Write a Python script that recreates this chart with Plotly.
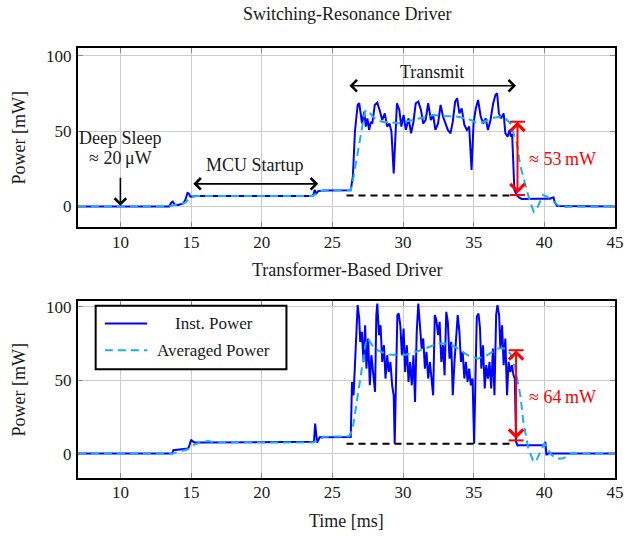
import plotly.graph_objects as go

# ---------------- data ----------------
# Top: Switching-Resonance Driver, instantaneous power
top_t = [7.0, 13.45, 13.6, 13.7, 13.85, 14.1, 14.45, 14.6, 14.75, 14.85, 14.95, 15.1, 15.4,
         23.5, 23.65, 23.75, 23.85, 24.0, 24.4, 26.3,
         26.45, 26.6, 26.79, 26.9, 27.02, 27.1, 27.25, 27.37, 27.48, 27.6, 27.72, 27.83,
         28.0, 28.18, 28.34, 28.53, 28.71, 28.88, 29.04, 29.18, 29.34, 29.46, 29.57, 29.74,
         29.88, 30.04, 30.2, 30.39, 30.57, 30.74, 30.9, 31.08, 31.27, 31.43, 31.6, 31.78,
         31.97, 32.13, 32.29, 32.48, 32.66, 32.83, 32.99, 33.17, 33.36, 33.52, 33.69, 33.83,
         33.99, 34.15, 34.34, 34.52, 34.68, 34.85, 34.99, 35.15, 35.31, 35.5, 35.68, 35.85,
         36.01, 36.19, 36.38, 36.54, 36.66, 36.78, 36.94, 37.12, 37.24, 37.4, 37.54, 37.63,
         37.72, 37.8, 37.88, 37.95, 38.05, 38.2, 38.4, 39.5, 40.4, 40.55, 40.65, 40.75, 40.9, 45.0]
top_inst = [0, 0, 2.5, 3.2, 1.2, 1.0, 2.0, 4.5, 9.0, 8.5, 6.5, 6.8, 7.0,
            7.0, 7.5, 11.0, 8.5, 10.2, 10.6, 10.8,
            20, 50, 67.3, 68.4, 61.7, 55, 62.8, 52.9, 58.4, 50.7, 56, 55,
            67.3, 68.8, 63.9, 57.3, 61.7, 52.9, 55, 49.6, 21.9, 52.9, 68.4, 63.9,
            52.9, 60.6, 50.7, 58.4, 48.5, 56.2, 68.4, 69.5, 63.9, 55, 57.3, 68.4,
            57.3, 60.6, 50.7, 55, 67.3, 59.5, 55, 50.7, 48.5, 56.2, 69.5, 71.7,
            61.7, 65, 54, 50.7, 52.9, 24.2, 55, 65, 70.6, 59.5, 55, 58.4,
            50.7, 57.3, 68.4, 73.9, 75, 61.7, 58.4, 61.7, 48.5, 46.3, 50.7, 46.3,
            48, 30, 11, 9.5, 7.5, 6, 5, 5.2, 5.2, 5.8, 6.0, 2.5, 0.3, 0]

# Top: averaged power
top_avg_t = [7.0, 13.5, 13.8, 14.2, 14.6, 14.9, 15.2, 15.6, 23.6, 23.9, 24.2, 24.6, 26.3,
             26.45, 26.7, 27.0, 27.3, 27.5, 27.8, 28.2, 28.6, 29.0, 29.4, 29.8, 30.3, 30.8,
             31.3, 31.8, 32.2, 32.9, 33.5, 33.9, 34.4, 34.8, 35.3, 35.7, 36.0, 36.5, 36.9,
             37.24, 37.6, 37.85, 38.05, 38.3, 38.55, 38.75, 39.0, 39.25, 39.5, 39.7, 39.9,
             40.2, 40.5, 40.8, 41.1, 41.4, 45.0]
top_avg = [0, 0, 1.0, 1.2, 2.5, 5.5, 6.8, 7.0, 7.0, 8.5, 10.2, 10.7, 10.8,
           17, 30, 48, 63, 64, 60, 57, 56, 56, 55.5, 55, 56.5, 57.5,
           58.4, 59.5, 60.6, 60, 59.5, 59.5, 58.5, 57.3, 55, 56, 57.3, 59, 59.5,
           58.4, 55, 48, 42, 27, 17, 11, 3, -3.5, -1, 4, 7.6,
           6.5, 4.4, 2, 0, -0.3, 0]

# Bottom: Transformer-Based Driver, instantaneous power
bot_t = [7.0, 13.66, 13.75, 14.2, 14.8, 14.9, 15.0, 15.1, 15.25, 16.0, 23.5, 23.7, 23.78,
         23.85, 23.92, 24.0, 24.1, 26.3,
         26.39, 26.5, 26.65, 26.79, 26.9, 26.97, 27.09, 27.2, 27.32, 27.41, 27.53, 27.65,
         27.76, 27.88, 28.02, 28.11, 28.18, 28.3, 28.41, 28.53, 28.65, 28.76, 28.88, 28.99,
         29.11, 29.23, 29.34, 29.41, 29.5, 29.6, 29.69, 29.81, 29.92, 30.04, 30.15, 30.27,
         30.39, 30.5, 30.62, 30.74, 30.85, 30.97, 31.08, 31.2, 31.32, 31.43, 31.55, 31.66,
         31.78, 31.9, 32.01, 32.13, 32.25, 32.36, 32.48, 32.59, 32.71, 32.83, 32.94, 33.06,
         33.17, 33.29, 33.41, 33.52, 33.64, 33.76, 33.87, 33.99, 34.1, 34.22, 34.34, 34.45,
         34.57, 34.68, 34.8, 34.92, 35.03, 35.15, 35.22, 35.34, 35.45, 35.54, 35.66, 35.78,
         35.89, 36.01, 36.12, 36.24, 36.36, 36.47, 36.59, 36.68, 36.8, 36.89, 37.01, 37.12,
         37.24, 37.36, 37.47, 37.59, 37.7, 37.82, 37.91, 38.0, 38.1, 38.3, 40.0, 40.07,
         40.15, 40.25, 45.0]
bot_inst = [0, 0, 2.3, 2.6, 3.5, 6, 9.5, 8.5, 7.6, 7.5, 7.5, 8, 20.4,
            12, 7.5, 9, 11.2, 11.3,
            48.8, 39.7, 73.8, 101.1, 92, 76, 82.9, 62.4, 87.4, 57.9, 78.4, 46.5,
            67, 53.3, 42, 94.3, 102.2, 80.6, 87.4, 62.4, 73.8, 51.1, 67, 55.6,
            62.4, 46.5, 39.7, 6.8, 44.3, 94.3, 95.4, 87.4, 67, 85.2, 55.6, 73.8,
            48.8, 62.4, 46.5, 67, 35.2, 82.9, 102.2, 87.4, 71.5, 78.4, 57.9, 69.3,
            51.1, 62.4, 48.8, 39.7, 94.3, 90.9, 80.6, 89.7, 62.4, 73.8, 53.3, 96.5,
            89.7, 64.7, 76.1, 39.7, 62.4, 80.6, 94.3, 82.9, 62.4, 69.3, 51.1, 62.4,
            48.8, 57.9, 46.5, 51.1, 6.8, 62.4, 93.1, 95.4, 85.2, 57.9, 73.8, 44.3,
            60.2, 51.1, 62.4, 44.3, 71.5, 39.7, 94.3, 101.1, 94.3, 71.5, 87.4, 60.2,
            78.4, 39.7, 62.4, 55.6, 60.2, 53.3, 51, 7.9, 5.6, 5.7, 5.7, 8,
            -1, 0, 0]

# Bottom: averaged power
bot_avg_t = [7.0, 13.7, 14.2, 14.8, 15.2, 15.6, 16.2, 16.6, 23.6, 24.0, 24.4, 26.2,
             26.44, 26.79, 27.14, 27.37, 27.5, 27.8, 28.1, 28.5, 29.0, 29.5, 29.9, 30.6,
             31.55, 32.5, 33.2, 33.9, 34.57, 35.27, 35.96, 36.66, 37.24, 37.6, 37.94, 38.3,
             38.52, 38.87, 39.2, 39.4, 39.7, 40.0, 40.2, 40.5, 40.9, 41.3, 41.7, 42.0,
             42.5, 43.0, 43.5, 45.0]
bot_avg = [0, 0, 1.5, 3, 6, 7.5, 8.6, 7.8, 7.5, 9, 11.5, 11.8,
           17, 39.7, 62.4, 76, 78.4, 74, 71, 69, 67.5, 67, 67, 68.1,
           71.5, 75, 75, 71.5, 67, 64.7, 67, 71.5, 71.5, 68.1, 57.9, 39.7,
           21.5, 3.4, -4.6, -5.5, 1, 6.8, 4, -1, -3.4, -3.4, -1.5, 0.5,
           0.3, -0.3, 0.2, 0]

# Idle baseline during transmit and the measured swings
top_base_t = [26.0, 37.6]
top_base = [7.2, 7.2]
bot_base_t = [26.0, 37.6]
bot_base = [6.8, 6.8]
top_swing = [7.6, 56.2]   # ≈ 53 mW
bot_swing = [9.0, 70.4]   # ≈ 64 mW
swing_t = [38.1, 38.0]

x_ticks = [10, 15, 20, 25, 30, 35, 40, 45]
y_ticks = [0, 50, 100]

# ---------------- figure ----------------
FONT = "Liberation Serif"
BLUE = "#0000FF"
CYAN = "#1AAFEF"
RED = "#FF0000"
TXT = "#1a1a1a"

fig = go.Figure()
for xs, ys, xa, ya in [(top_t, top_inst, "x", "y"), (bot_t, bot_inst, "x2", "y2")]:
    fig.add_trace(go.Scatter(x=xs, y=ys, mode="lines", xaxis=xa, yaxis=ya,
                             line=dict(color=BLUE, width=2), showlegend=False))
for xs, ys, xa, ya in [(top_avg_t, top_avg, "x", "y"), (bot_avg_t, bot_avg, "x2", "y2")]:
    fig.add_trace(go.Scatter(x=xs, y=ys, mode="lines", xaxis=xa, yaxis=ya,
                             line=dict(color=CYAN, width=2, dash="8px,5px"), showlegend=False))
for xs, ys, xa, ya in [(top_base_t, top_base, "x", "y"), (bot_base_t, bot_base, "x2", "y2")]:
    fig.add_trace(go.Scatter(x=xs, y=ys, mode="lines", xaxis=xa, yaxis=ya,
                             line=dict(color="black", width=2, dash="7px,5px"), showlegend=False))

# page geometry (body margin is removed by the post script)
W, H = 633, 536
ML, MR, MT, MB = 78, 9, 48, 58
PH = H - MT - MB
PW = W - ML - MR


def py(p):
    """page pixel row -> paper y"""
    return (H - MB - p) / PH


def px(p):
    """page pixel column -> paper x"""
    return (p - ML) / PW


axis_common = dict(showgrid=True, gridcolor="#cccccc", gridwidth=1, zeroline=False,
                   showline=True, linecolor="black", linewidth=2, mirror="ticks",
                   ticks="inside", ticklen=5, tickcolor="#8a8a8a", tickwidth=1,
                   tickfont=dict(family=FONT, size=17, color=TXT))

fig.update_layout(
    width=W, height=H, margin=dict(l=ML, r=MR, t=MT, b=MB),
    paper_bgcolor="white", plot_bgcolor="white",
    font=dict(family=FONT, size=17, color=TXT),
    xaxis=dict(domain=[0, 1], range=[7, 45], anchor="y", tickvals=x_ticks,
               ticklabelstandoff=-1, **axis_common),
    yaxis=dict(domain=[py(226.7), 1], range=[-13.4, 105], anchor="x", tickvals=y_ticks,
               ticklabelstandoff=1, **axis_common),
    xaxis2=dict(domain=[0, 1], range=[7, 45], anchor="y2", tickvals=x_ticks,
                ticklabelstandoff=-2, **axis_common),
    yaxis2=dict(domain=[0, py(301)], range=[-16.6, 103.9], anchor="x2", tickvals=y_ticks,
                ticklabelstandoff=1, **axis_common),
)

ann = []


def text(x, y, s, xref="x", yref="y", size=18, color=TXT, xanchor="center", angle=0):
    ann.append(dict(x=x, y=y, xref=xref, yref=yref, text=s, showarrow=False,
                    xanchor=xanchor, yanchor="middle", textangle=angle,
                    font=dict(family=FONT, size=size, color=color)))


def arrow(x0, y0, x1, y1, xref="x", yref="y", color="black", both=False, width=1.6):
    ann.append(dict(x=x1, y=y1, ax=x0, ay=y0, xref=xref, yref=yref, axref=xref, ayref=yref,
                    text="", showarrow=True, arrowhead=4, startarrowhead=4,
                    arrowside="end+start" if both else "end", arrowsize=1.4,
                    startarrowsize=1.4, arrowwidth=width, arrowcolor=color,
                    standoff=0, startstandoff=0))


# titles and axis labels
text(0.5, py(14), "Switching-Resonance Driver", "paper", "paper")
text(0.5, py(270), "Transformer-Based Driver", "paper", "paper")
text(0.5, py(521), "Time [ms]", "paper", "paper")
text(px(18), py(137.5), "Power [mW]", "paper", "paper", angle=-90)
text(px(18), py(389.5), "Power [mW]", "paper", "paper", angle=-90)

# top annotations
text(10.0, 45.2, "Deep Sleep")
text(10.0, 32.0, "≈ 20\u2009μW")
arrow(10.0, 20.0, 10.0, 0.4)
text(19.5, 27.5, "MCU Startup")
arrow(15.05, 15.0, 24.0, 15.0, both=True)
text(32.07, 89.4, "Transmit")
arrow(26.1, 80.0, 38.0, 80.0, both=True)
arrow(swing_t[0], top_swing[0], swing_t[0], top_swing[1], color=RED, both=True, width=2)
text(38.75, 31.5, "≈ 53\u2009mW", color=RED, xanchor="left")

# bottom annotations
arrow(swing_t[1], bot_swing[0], swing_t[1], bot_swing[1], "x2", "y2", color=RED, both=True, width=2)
text(38.75, 38.4, "≈ 64\u2009mW", "x2", "y2", color=RED, xanchor="left")

# legend (drawn in the bottom axes)
text(16.6, 88.6, "Inst. Power", "x2", "y2", size=17)
text(16.6, 70.4, "Averaged Power", "x2", "y2", size=17)
fig.update_layout(annotations=ann)

shapes = []
for (tt, lo, hi, xr, yr) in [(swing_t[0], top_swing[0], top_swing[1], "x", "y"),
                             (swing_t[1], bot_swing[0], bot_swing[1], "x2", "y2")]:
    for v in (lo, hi):
        shapes.append(dict(type="line", xref=xr, yref=yr, x0=tt - 0.53, x1=tt + 0.53,
                           y0=v, y1=v, line=dict(color=RED, width=2)))
shapes.append(dict(type="rect", xref="x2", yref="y2", x0=8.25, x1=21.75, y0=57.5, y1=100.6,
                   line=dict(color="black", width=2), fillcolor="white", layer="above"))
shapes.append(dict(type="line", xref="x2", yref="y2", x0=8.9, x1=11.9, y0=88.6, y1=88.6,
                   line=dict(color=BLUE, width=2)))
shapes.append(dict(type="line", xref="x2", yref="y2", x0=8.9, x1=11.9, y0=70.4, y1=70.4,
                   line=dict(color=CYAN, width=2, dash="8px,5px")))
fig.update_layout(shapes=shapes)

fig.write_html("out.html", config={"displayModeBar": False},
               post_script="document.body.style.margin='0';document.body.style.overflow='hidden';")
